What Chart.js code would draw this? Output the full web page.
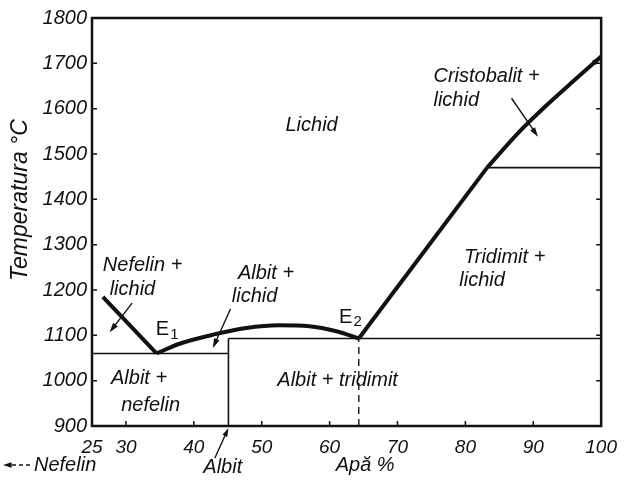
<!DOCTYPE html>
<html>
<head>
<meta charset="utf-8">
<script src="https://cdn.jsdelivr.net/npm/chart.js@4/dist/chart.umd.min.js"></script>
<style>
  html, body { margin: 0; padding: 0; background: #fff; }
  #wrap { width: 627px; height: 486px; }
</style>
</head>
<body>
<div id="wrap"><canvas id="chart" width="627" height="486"></canvas></div>
<script>
// Axis ticks
const xTicks = [25, 30, 40, 50, 60, 70, 80, 90, 100];
const xTickMarks = [30, 40, 50, 60, 70, 80, 90];
const yTicks = [900, 1000, 1100, 1200, 1300, 1400, 1500, 1600, 1700, 1800];

// Liquidus curves (x = %, T = °C)
const nefelinX = [26.6, 34.5];
const nefelinT = [1185, 1060];
const albitX = [34.5, 38, 43, 47.7, 52.5, 57, 61, 64.3];
const albitT = [1060, 1082, 1102, 1116, 1122, 1120, 1109, 1093];
const tridimitX = [64.3, 83.2];
const tridimitT = [1093, 1470];
const cristobalitX = [83.2, 88, 92, 96, 100];
const cristobalitT = [1470, 1550, 1608, 1662, 1715];

// Solidus lines and phase boundaries
const solidusLowX = [25, 45.1];
const solidusLowT = [1060, 1060];
const albitLineX = [45.1, 45.1];
const albitLineT = [900, 1093];
const solidusHighX = [45.1, 100];
const solidusHighT = [1093, 1093];
const e2LineX = [64.3, 64.3];
const e2LineT = [900, 1093];
const inversionX = [83.2, 100];
const inversionT = [1470, 1470];

// Field labels (data units, left aligned)
const fieldLabels = [
    { text: 'Lichid', x: 53.5, t: 1564 },
    { text: 'Cristobalit +', x: 75.3, t: 1670 },
    { text: 'lichid', x: 75.3, t: 1619 },
    { text: 'Tridimit +', x: 79.8, t: 1271 },
    { text: 'lichid', x: 79.1, t: 1222 },
    { text: 'Albit + tridimit', x: 52.3, t: 1001 },
    { text: 'Albit +', x: 27.8, t: 1006 },
    { text: 'nefelin', x: 29.3, t: 946 },
    { text: 'Nefelin +', x: 26.6, t: 1255 },
    { text: 'lichid', x: 27.6, t: 1202 },
    { text: 'Albit +', x: 46.5, t: 1237 },
    { text: 'lichid', x: 45.6, t: 1185 }
];

// Leader arrows (from -> to, data units)
const leaders = [
    { x1: 30.9, t1: 1171, x2: 27.6, t2: 1107 },
    { x1: 45.4, t1: 1158, x2: 42.8, t2: 1072 },
    { x1: 86.8, t1: 1623, x2: 90.7, t2: 1538 }
];

const INK = '#111';
const FONT = '"Liberation Sans", Arial, sans-serif';

const toPoints = (xs, ts) => xs.map((x, i) => ({ x, y: ts[i] }));

const lineSet = (xs, ts, width, extra = {}) => Object.assign({
    data: toPoints(xs, ts),
    showLine: true,
    borderColor: INK,
    borderWidth: width,
    pointRadius: 0,
    fill: false,
    tension: 0
}, extra);

function drawArrow(ctx, x1, y1, x2, y2, size, dashed) {
    const ang = Math.atan2(y2 - y1, x2 - x1);
    ctx.save();
    ctx.strokeStyle = INK;
    ctx.fillStyle = INK;
    ctx.lineWidth = 1.4;
    if (dashed) ctx.setLineDash([4, 3]);
    ctx.beginPath();
    ctx.moveTo(x1, y1);
    ctx.lineTo(x2 - Math.cos(ang) * size * 0.8, y2 - Math.sin(ang) * size * 0.8);
    ctx.stroke();
    ctx.setLineDash([]);
    ctx.beginPath();
    ctx.moveTo(x2, y2);
    ctx.lineTo(x2 - size * Math.cos(ang - 0.3), y2 - size * Math.sin(ang - 0.3));
    ctx.lineTo(x2 - size * Math.cos(ang + 0.3), y2 - size * Math.sin(ang + 0.3));
    ctx.closePath();
    ctx.fill();
    ctx.restore();
}

const diagramPlugin = {
    id: 'diagram',
    beforeDraw(chart) {
        const ctx = chart.ctx;
        ctx.save();
        ctx.fillStyle = '#fff';
        ctx.fillRect(0, 0, chart.width, chart.height);
        ctx.restore();
    },
    afterDatasetsDraw(chart) {
        const { ctx, chartArea: a, scales } = chart;
        const px = v => scales.x.getPixelForValue(v);
        const py = v => scales.y.getPixelForValue(v);

        ctx.save();
        // frame
        ctx.strokeStyle = INK;
        ctx.lineWidth = 2.5;
        ctx.strokeRect(a.left, a.top, a.right - a.left, a.bottom - a.top);

        // inward tick marks
        ctx.lineWidth = 1.5;
        ctx.beginPath();
        yTicks.forEach(v => {
            ctx.moveTo(a.left, py(v)); ctx.lineTo(a.left + 5, py(v));
            ctx.moveTo(a.right, py(v)); ctx.lineTo(a.right - 5, py(v));
        });
        xTickMarks.forEach(v => {
            ctx.moveTo(px(v), a.bottom); ctx.lineTo(px(v), a.bottom - 5);
        });
        ctx.stroke();

        // field labels
        ctx.fillStyle = INK;
        ctx.textBaseline = 'middle';
        ctx.textAlign = 'left';
        ctx.font = 'italic 20px ' + FONT;
        fieldLabels.forEach(l => ctx.fillText(l.text, px(l.x), py(l.t)));

        // eutectic points
        [['E', '1', 34.4, 1112], ['E', '2', 61.4, 1140]].forEach(([e, n, x, t]) => {
            ctx.font = '20px ' + FONT;
            ctx.fillText(e, px(x), py(t));
            const w = ctx.measureText(e).width;
            ctx.font = '15px ' + FONT;
            ctx.fillText(n, px(x) + w + 1, py(t) + 5);
        });

        // leader arrows
        leaders.forEach(l => drawArrow(ctx, px(l.x1), py(l.t1), px(l.x2), py(l.t2), 10));

        // arrow tip at end of cristobalite liquidus
        const n = cristobalitX.length;
        drawArrow(ctx, px(cristobalitX[n - 2]), py(cristobalitT[n - 2]),
            px(cristobalitX[n - 1]), py(cristobalitT[n - 1]), 10);

        // y axis title
        ctx.save();
        ctx.translate(21, (a.top + a.bottom) / 2 - 22);
        ctx.rotate(-Math.PI / 2);
        ctx.textAlign = 'center';
        ctx.font = 'italic 23px ' + FONT;
        ctx.fillText('Temperatura °C', 0, 0);
        ctx.restore();

        // bottom captions
        const cy = a.bottom + 39;
        ctx.font = 'italic 20px ' + FONT;
        drawArrow(ctx, 30, cy, 3, cy, 9, true);
        ctx.fillText('Nefelin', 34, cy);
        ctx.fillText('Albit', px(41.4), cy + 2);
        drawArrow(ctx, px(43.1), cy - 7, px(45.1), a.bottom + 2, 9);
        ctx.fillText('Apă %', px(60.9), cy);
        ctx.restore();
    }
};

const ctx = document.getElementById('chart').getContext('2d');
new Chart(ctx, {
    type: 'scatter',
    data: {
        datasets: [
            lineSet(nefelinX, nefelinT, 4),
            lineSet(albitX, albitT, 4, { cubicInterpolationMode: 'monotone' }),
            lineSet(tridimitX, tridimitT, 4),
            lineSet(cristobalitX, cristobalitT, 4, { cubicInterpolationMode: 'monotone' }),
            lineSet(solidusLowX, solidusLowT, 1.6),
            lineSet(albitLineX, albitLineT, 1.6),
            lineSet(solidusHighX, solidusHighT, 1.6),
            lineSet(e2LineX, e2LineT, 1.4, { borderDash: [7, 5] }),
            lineSet(inversionX, inversionT, 1.6)
        ]
    },
    options: {
        responsive: false,
        animation: false,
        layout: { padding: { top: 18, right: 14, left: 0, bottom: 0 } },
        plugins: {
            legend: { display: false },
            tooltip: { enabled: false }
        },
        scales: {
            x: {
                type: 'linear',
                min: 25,
                max: 100,
                afterFit: s => { s.height = 60; },
                afterBuildTicks: s => { s.ticks = xTicks.map(v => ({ value: v })); },
                grid: { display: false, drawTicks: false },
                border: { display: false },
                ticks: {
                    color: INK,
                    padding: 10,
                    maxRotation: 0,
                    autoSkip: false,
                    callback: v => String(v),
                    font: { family: FONT, size: 19, style: 'italic' }
                }
            },
            y: {
                type: 'linear',
                min: 900,
                max: 1800,
                afterFit: s => { s.width = 92; },
                afterBuildTicks: s => { s.ticks = yTicks.map(v => ({ value: v })); },
                grid: { display: false, drawTicks: false },
                border: { display: false },
                ticks: {
                    color: INK,
                    padding: 5,
                    autoSkip: false,
                    callback: v => String(v),
                    font: { family: FONT, size: 20, style: 'italic' }
                }
            }
        }
    },
    plugins: [diagramPlugin]
});
</script>
</body>
</html>
